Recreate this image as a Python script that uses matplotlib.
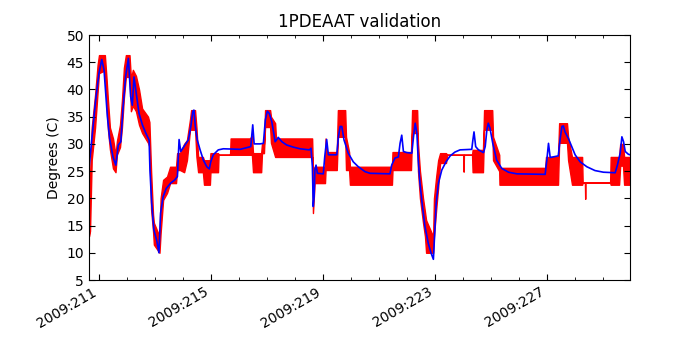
import matplotlib
matplotlib.use("Agg")
import matplotlib.pyplot as plt
from matplotlib.ticker import FuncFormatter, MultipleLocator

# Model (blue) trace: day of year 2009, degrees C
model_t = [210.64, 210.74, 210.88, 211.00, 211.10, 211.18, 211.30, 211.38, 211.50, 211.60,
           211.69, 211.78, 211.86, 211.95, 212.05, 212.13, 212.19, 212.25, 212.33, 212.43,
           212.55, 212.67, 212.79, 212.82, 212.88, 212.96, 213.06, 213.14, 213.20, 213.29,
           213.40, 213.56, 213.71, 213.80, 213.86, 213.92, 214.07, 214.19, 214.28, 214.35,
           214.39, 214.44, 214.51, 214.61, 214.73, 214.85, 214.94, 214.99, 215.08, 215.26,
           215.44, 216.04, 216.42, 216.49, 216.54, 216.75, 216.87, 216.94, 217.01, 217.08,
           217.17, 217.29, 217.35, 217.40, 217.53, 217.70, 217.94, 218.18, 218.51, 218.57,
           218.62, 218.65, 218.68, 218.71, 218.75, 218.80, 219.01, 219.06, 219.13, 219.19,
           219.49, 219.55, 219.61, 219.67, 219.75, 219.90, 220.08, 220.26, 220.50, 220.68,
           221.39, 221.45, 221.57, 221.69, 221.75, 221.81, 221.87, 221.99, 222.17, 222.23,
           222.29, 222.35, 222.40, 222.46, 222.55, 222.64, 222.76, 222.86, 222.94, 222.98,
           223.04, 223.12, 223.24, 223.39, 223.54, 223.71, 223.89, 224.31, 224.35, 224.39,
           224.45, 224.55, 224.73, 224.79, 224.85, 224.90, 224.96, 225.06, 225.20, 225.38,
           225.62, 225.92, 226.93, 226.99, 227.05, 227.11, 227.40, 227.46, 227.53, 227.58,
           227.64, 227.76, 227.88, 228.00, 228.18, 228.42, 228.71, 229.01, 229.43, 229.51,
           229.61, 229.67, 229.73, 229.79, 229.90, 229.96]
model_v = [25.2, 30.7, 38.0, 43.0, 45.5, 43.6, 35.0, 31.0, 27.6, 26.1,
           29.8, 30.4, 36.8, 42.3, 45.7, 38.7, 37.1, 42.3, 39.3, 35.6,
           33.5, 32.0, 30.7, 25.2, 19.2, 14.2, 12.3, 10.0, 17.3, 20.3,
           21.8, 22.8, 23.4, 24.0, 30.8, 28.6, 29.8, 30.7, 33.2, 36.0,
           36.2, 33.2, 30.7, 28.9, 27.0, 25.8, 25.4, 26.7, 28.0, 28.9,
           29.1, 29.0, 29.5, 33.5, 30.0, 30.0, 30.1, 34.4, 36.0, 35.6,
           34.1, 30.4, 30.8, 31.2, 30.4, 29.8, 29.4, 29.1, 28.9, 29.2,
           25.8, 18.5, 20.3, 25.2, 26.1, 24.6, 24.5, 27.6, 30.8, 28.0,
           28.0, 31.3, 33.2, 33.2, 30.7, 28.3, 26.7, 25.8, 24.9, 24.6,
           24.5, 26.1, 27.4, 27.6, 30.1, 31.6, 28.6, 28.4, 28.3, 31.3,
           33.8, 32.0, 27.0, 22.8, 18.5, 14.8, 11.7, 9.9, 8.8, 13.0,
           19.1, 22.8, 25.2, 26.7, 27.8, 28.5, 28.9, 29.0, 30.7, 32.2,
           29.5, 28.9, 28.4, 29.5, 32.6, 33.8, 32.9, 30.1, 27.0, 25.5,
           24.8, 24.5, 24.4, 27.0, 30.1, 27.5, 27.8, 30.7, 33.2, 33.3,
           32.2, 31.0, 29.5, 28.0, 26.7, 25.8, 25.1, 24.8, 24.7, 26.1,
           28.3, 31.3, 30.4, 28.6, 28.1, 28.0]

# Telemetry (red): envelope of the quantised, jittering readings
tlm_t = [210.64, 210.68, 210.74, 210.86, 210.95, 211.00, 211.21, 211.27, 211.32, 211.39,
         211.50, 211.59, 211.64, 211.75, 211.82, 211.89, 211.96, 212.09, 212.14, 212.21,
         212.32, 212.43, 212.54, 212.75, 212.80, 212.86, 212.93, 212.96, 213.16, 213.20,
         213.29, 213.43, 213.54, 213.75, 213.79, 213.89, 214.04, 214.14, 214.25, 214.29,
         214.43, 214.48, 214.54, 214.71, 214.75, 214.96, 214.98, 215.25, 215.27, 215.68,
         215.70, 216.39, 216.46, 216.50, 216.79, 216.82, 216.89, 216.93, 217.11, 217.14,
         217.29, 217.32, 218.61, 218.64, 218.70, 219.07, 219.09, 219.14, 219.49, 219.53,
         219.79, 219.82, 219.93, 219.96, 221.46, 221.48, 222.14, 222.18, 222.36, 222.39,
         222.46, 222.57, 222.64, 222.68, 222.93, 222.96, 223.04, 223.11, 223.18, 223.39,
         223.43, 224.01, 224.02, 224.03, 224.32, 224.34, 224.71, 224.75, 225.04, 225.07,
         225.29, 225.30, 226.93, 226.96, 227.39, 227.43, 227.71, 227.75, 227.89, 228.25,
         228.27, 228.35, 228.36, 228.37, 229.25, 229.27, 229.57, 229.61, 229.71, 229.75,
         229.96]
tlm_lo = [13.0, 14.0, 27.0, 33.0, 39.5, 43.0, 43.5, 37.0, 32.6, 29.0,
          25.5, 24.8, 28.0, 29.4, 33.0, 38.5, 42.3, 42.3, 36.0, 37.0,
          36.0, 33.5, 32.0, 30.2, 29.5, 18.0, 14.0, 11.5, 10.0, 13.6,
          19.7, 21.0, 22.8, 22.8, 25.2, 25.2, 24.8, 27.0, 32.6, 32.6,
          32.6, 27.6, 24.8, 24.8, 22.5, 22.5, 24.8, 24.8, 28.0, 28.0,
          28.0, 28.0, 28.0, 24.8, 24.8, 28.3, 28.3, 33.1, 33.1, 30.2,
          27.6, 27.6, 27.6, 17.3, 22.8, 22.8, 25.2, 25.2, 25.2, 31.3,
          31.3, 25.2, 25.2, 22.5, 22.5, 25.2, 25.2, 32.0, 32.0, 25.0,
          20.0, 15.5, 13.0, 10.0, 10.0, 13.0, 18.0, 22.0, 26.5, 26.5,
          28.0, 28.0, 24.9, 28.0, 28.0, 24.8, 24.8, 32.6, 32.6, 27.0,
          25.0, 22.5, 22.5, 22.5, 22.5, 30.2, 30.2, 27.0, 22.5, 22.5,
          22.9, 22.9, 19.9, 22.9, 22.9, 22.5, 22.5, 26.0, 26.0, 22.5,
          22.5]
tlm_hi = [19.0, 24.0, 33.0, 39.0, 44.5, 46.3, 46.3, 42.0, 38.0, 33.0,
          31.0, 28.0, 30.5, 33.5, 38.0, 44.0, 46.3, 46.3, 42.0, 43.6,
          42.5, 40.0, 36.5, 35.0, 34.0, 25.0, 17.0, 15.5, 13.0, 20.0,
          23.4, 24.0, 25.8, 25.8, 28.3, 28.3, 30.0, 30.7, 34.5, 36.2,
          36.2, 33.0, 27.6, 27.6, 27.0, 27.0, 28.3, 28.3, 28.0, 28.0,
          31.0, 31.0, 31.5, 28.3, 28.3, 30.0, 30.0, 36.2, 36.2, 35.0,
          33.8, 31.0, 31.0, 25.0, 25.8, 25.8, 31.0, 28.5, 28.5, 36.2,
          36.2, 31.3, 28.5, 25.8, 25.8, 28.5, 28.5, 36.2, 36.2, 30.0,
          25.0, 20.0, 17.5, 16.0, 13.0, 20.0, 24.0, 27.0, 28.3, 28.3,
          28.0, 28.0, 28.0, 28.0, 28.0, 28.9, 28.9, 36.2, 36.2, 31.3,
          28.0, 25.6, 25.6, 27.6, 27.6, 33.8, 33.8, 31.3, 27.6, 27.6,
          22.9, 22.9, 22.9, 22.9, 22.9, 27.6, 27.6, 30.0, 30.0, 27.6,
          27.6]

y_ticks = [5, 10, 15, 20, 25, 30, 35, 40, 45, 50]


def day_label(x, pos):
    return "2009:%03d" % int(round(x))


fig = plt.figure(figsize=(7, 3.5), dpi=100)
ax = fig.add_axes([0.127, 0.2, 0.773, 0.7])

ax.fill_between(tlm_t, tlm_lo, tlm_hi, facecolor="red", edgecolor="red", linewidth=1.0)
ax.plot(model_t, model_v, color="blue", linewidth=1.2)

ax.set_xlim(210.64, 229.96)
ax.set_ylim(5, 50)
ax.set_yticks(y_ticks)
ax.xaxis.set_major_locator(MultipleLocator(4, offset=3))
ax.xaxis.set_minor_locator(MultipleLocator(1))
ax.xaxis.set_major_formatter(FuncFormatter(day_label))

ax.tick_params(which="both", direction="in", top=True, right=True, labelsize=10)
ax.tick_params(which="major", length=4)
ax.tick_params(which="minor", length=2)
for lbl in ax.get_xticklabels():
    lbl.set_rotation(30)
    lbl.set_ha("right")

ax.set_title("1PDEAAT validation", fontsize=12)
ax.set_ylabel("Degrees (C)", fontsize=10)

fig.savefig("out.png", dpi=100, facecolor="white")
